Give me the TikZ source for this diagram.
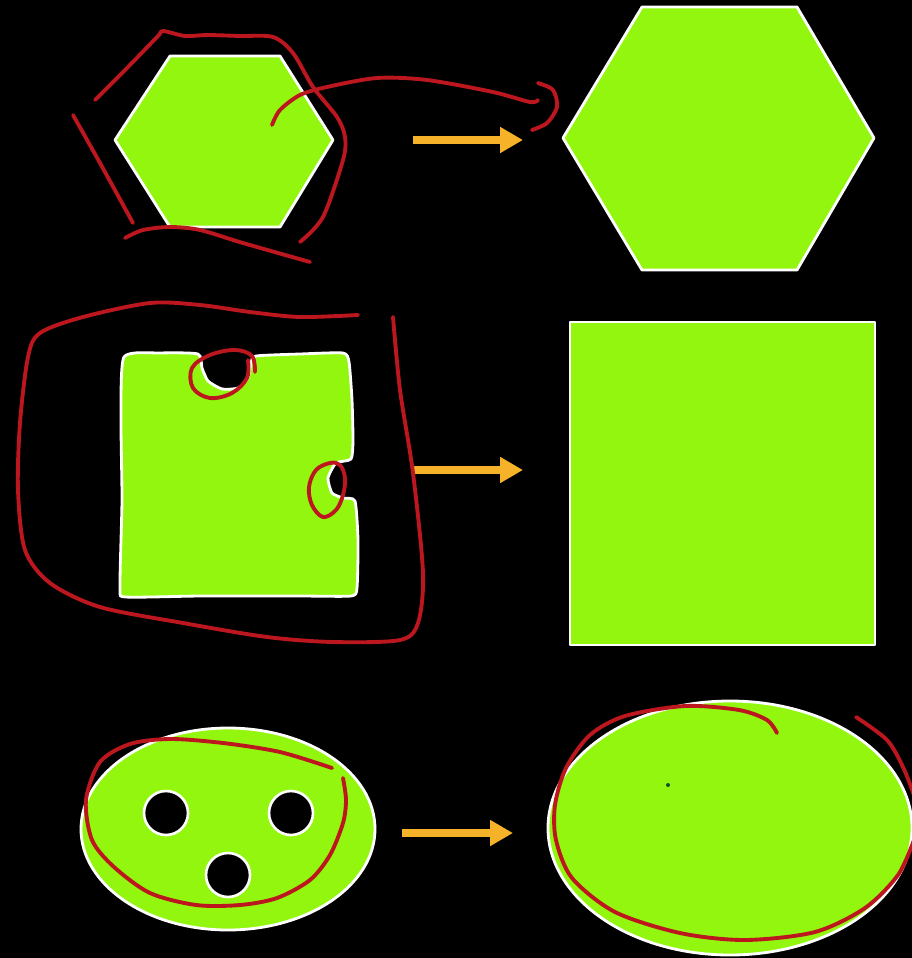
\documentclass[tikz,border=0pt]{standalone}
\usepackage{tikz}
\usetikzlibrary{arrows.meta}

\begin{document}
\begin{tikzpicture}[x=0.02cm, y=-0.02cm, line join=round, line cap=round,
    blob/.style={fill=shapegreen, draw=white, line width=1.6pt},
    hole/.style={fill=black, draw=white, line width=1.5pt},
    scribble/.style={draw=scribblered, line width=2.2pt},
    pointer/.style={draw=arroworange, line width=4pt, line cap=butt,
                    -{Triangle[length=13pt,width=14pt]}}]

    % Define custom colors to match the image
    \definecolor{shapegreen}{RGB}{146,246,14}
    \definecolor{scribblered}{RGB}{188,22,30}
    \definecolor{arroworange}{RGB}{246,178,40}
    \definecolor{dotgreen}{RGB}{20,80,40}

    % Black background, fixes the page size
    \fill[black] (0,0) rectangle (912,958);
    \useasboundingbox (0,0) rectangle (912,958);
    \clip (0,0) rectangle (912,958);

    % =======================================================
    % TOP ROW: HEXAGON
    % =======================================================
    \begin{scope}

        % 1. Small and big hexagon
        \draw[blob] (115,140) -- (170,56) -- (280,56) -- (333,140)
            -- (280,227) -- (170,227) -- cycle;
        \draw[blob] (563,138) -- (642,7) -- (797,7) -- (874,138)
            -- (797,270) -- (642,270) -- cycle;

        % 2. Arrow
        \coordinate (hexFrom) at (413,140);
        \coordinate (hexTo) at (523,140);
        \draw[pointer] (hexFrom) -- (hexTo);

        % 3. Red scribbles round the small hexagon
        \draw[scribble] plot[smooth, tension=0.5] coordinates {(95,100) (128,67) (158,36)
            (163,31) (185,36) (207,35) (240,36) (273,37) (293,53) (313,87)
            (337,117) (345,137) (343,160) (323,217) (300,242)};
        \draw[scribble] plot[smooth] coordinates {(73,115) (100,163) (133,223)};
        \draw[scribble] plot[smooth] coordinates {(125,238) (143,230) (170,227)
            (200,230) (243,243) (310,262)};
        \draw[scribble] plot[smooth] coordinates {(272,125) (280,110) (300,95)
            (327,87) (377,78) (427,80) (493,92) (530,102) (538,100)};
        \draw[scribble] plot[smooth] coordinates {(538,83) (553,90) (557,107)
            (547,123) (532,130)};
    \end{scope}

    % =======================================================
    % MIDDLE ROW: SQUARE WITH BITES
    % =======================================================
    \begin{scope}

        % 1. Wobbly square with two bites
        \draw[blob] plot[smooth cycle, tension=0.35] coordinates {(124,357)
            (160,353) (198,354) (202,368) (208,381) (222,389) (238,388)
            (248,378) (251,363) (256,356) (300,354) (343,353) (349,362)
            (352,400) (353,440) (351,459) (336,463) (328,478) (332,493)
            (343,498) (355,501) (358,540) (357,588) (351,596) (300,596)
            (200,596) (126,597) (120,588) (122,500) (121,420)};

        % 2. Big square
        \draw[blob] (570,322) rectangle (875,645);

        % 3. Arrow
        \coordinate (sqFrom) at (413,470);
        \coordinate (sqTo) at (523,470);
        \draw[pointer] (sqFrom) -- (sqTo);

        % 4. Red loops round the bites
        \draw[scribble] plot[smooth, tension=0.6] coordinates {(255,372) (252,356)
            (235,350) (210,355) (192,368) (193,388) (210,398) (232,393)
            (247,378) (248,360)};
        \draw[scribble] plot[smooth cycle, tension=0.6] coordinates {(330,463)
            (316,470) (309,487) (312,505) (323,517) (336,510) (343,495)
            (345,478) (340,465)};

        % 5. Big red loop
        \draw[scribble] plot[smooth, tension=0.5] coordinates {(358,315) (300,317)
            (250,312) (200,305) (150,303) (83,317) (40,333) (28,357)
            (20,423) (18,490) (25,550) (50,583) (100,607) (183,623)
            (267,637) (333,642) (400,640) (418,623) (423,573) (413,473)
            (400,390) (393,317)};
    \end{scope}

    % =======================================================
    % BOTTOM ROW: ELLIPSE WITH HOLES
    % =======================================================
    \begin{scope}

        % 1. Ellipse and its three holes
        \draw[blob] (228,829) ellipse [x radius=147, y radius=101];
        \foreach \p in {(166,813), (291,813), (228,875)} {
            \draw[hole] \p circle [radius=22];
        }

        % 2. Big ellipse and its dot
        \draw[blob] (730,828) ellipse [x radius=182, y radius=127];
        \fill[dotgreen] (668,785) circle [radius=2];

        % 3. Arrow
        \coordinate (ovFrom) at (402,833);
        \coordinate (ovTo) at (513,833);
        \draw[pointer] (ovFrom) -- (ovTo);

        % 4. Red scribbles
        \draw[scribble] plot[smooth] coordinates {(332,768) (280,752) (223,743)
            (170,739) (130,744) (100,762) (86,800) (92,840) (114,867)
            (150,893) (196,905) (240,905) (277,898) (310,880) (330,855)
            (343,823) (346,800) (343,778)};
        \draw[scribble] plot[smooth] coordinates {(777,733) (767,720) (739,710)
            (685,706) (625,716) (590,735) (566,768) (555,805) (556,840)
            (572,878) (615,912) (680,933) (745,940) (815,932) (865,908)
            (898,875) (914,840)};
        \draw[scribble] plot[smooth] coordinates {(856,717) (887,740) (903,767)
            (914,795)};
    \end{scope}

\end{tikzpicture}
\end{document}
